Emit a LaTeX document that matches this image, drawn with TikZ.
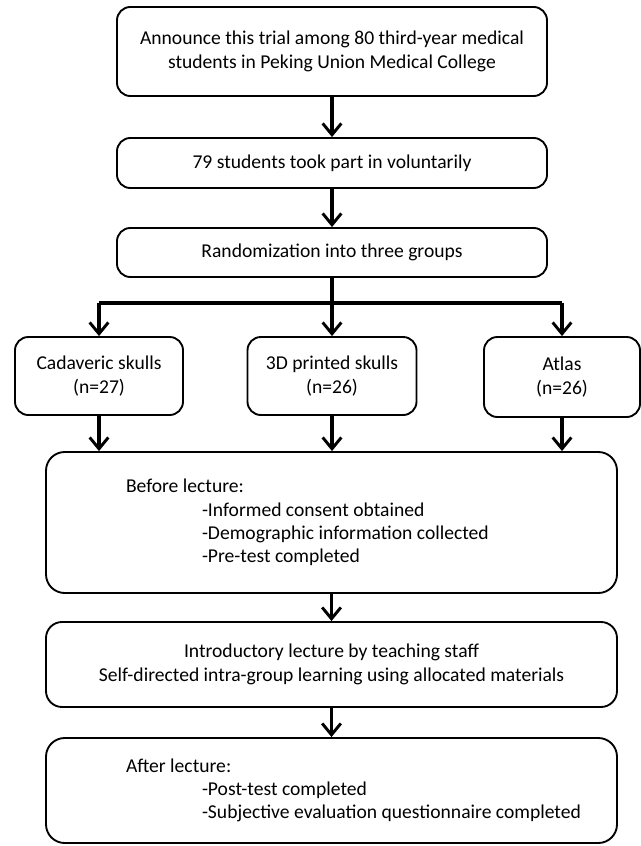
\documentclass[tikz,border=0pt]{standalone}
\usepackage{fontspec}
\setmainfont{Carlito}
\usetikzlibrary{arrows.meta}

\begin{document}
\begin{tikzpicture}[x=0.75pt,y=-0.75pt,
  box/.style={rectangle,rounded corners=10pt,draw,line width=1.4pt,align=center,
    font=\fontsize{14.7}{17.5}\selectfont},
  listbox/.style={box,rounded corners=14pt,align=flush left,inner xsep=60pt,text width=308.25pt}]
        \tikzset{edge/.style = {line width=2.3pt,-{Straight Barb[length=8.5pt,width=14pt,line width=2.2pt]}}}
        \useasboundingbox (0,0) rectangle (641,846);
        \node[box,minimum width=322.5pt,minimum height=66.75pt] (ann) at (332,51.5)
          {Announce this trial among 80 third-year medical\\students in Peking Union Medical College};
        \node[box,minimum width=322.5pt,minimum height=37.5pt] (vol) at (332,163)
          {79 students took part in voluntarily};
        \node[box,minimum width=322.5pt,minimum height=36.75pt] (rand) at (332,252.5)
          {Randomization into three groups};
        \node[box,minimum width=126pt,minimum height=58.5pt] (cad) at (99,376)
          {Cadaveric skulls\\(n=27)};
        \node[box,minimum width=126.75pt,minimum height=58.5pt] (prn) at (332,376)
          {3D printed skulls\\(n=26)};
        \node[box,minimum width=117pt,minimum height=60pt] (atl) at (562,377)
          {Atlas\\(n=26)};
        \node[listbox,minimum height=105.75pt] (bef) at (331.5,522.5)
          {Before lecture:\\
           \hspace*{57pt}\mbox{-Informed consent obtained}\\
           \hspace*{57pt}\mbox{-Demographic information collected}\\
           \hspace*{57pt}\mbox{-Pre-test completed}};
        \node[box,rounded corners=12pt,minimum width=428.25pt,minimum height=63.75pt] (intro) at (331.5,664.5)
          {Introductory lecture by teaching staff\\Self-directed intra-group learning using allocated materials};
        \node[listbox,minimum height=78.75pt] (aft) at (331.5,790.5)
          {After lecture:\\
           \hspace*{57pt}\mbox{-Post-test completed}\\
           \hspace*{57pt}\mbox{-Subjective evaluation questionnaire completed}};

        \coordinate (sl) at (99,303);
        \coordinate (sm) at (332,303);
        \coordinate (sr) at (562,303);

        \draw[edge] (ann) to (vol);
        \draw[edge] (vol) to (rand);

        \draw[line width=2.3pt] (rand) to (sm);
        \draw[line width=2.3pt] (sl) to (sr);
        \draw[edge] (sl) to (cad);
        \draw[edge] (sm) to (prn);
        \draw[edge] (sr) to (atl);

        \draw[edge] (cad.south) to (cad.south |- bef.north);
        \draw[edge] (prn.south) to (prn.south |- bef.north);
        \draw[edge] (atl.south) to (atl.south |- bef.north);

        \draw[edge] (bef) to (intro);
        \draw[edge] (intro) to (aft);
\end{tikzpicture}
\end{document}
